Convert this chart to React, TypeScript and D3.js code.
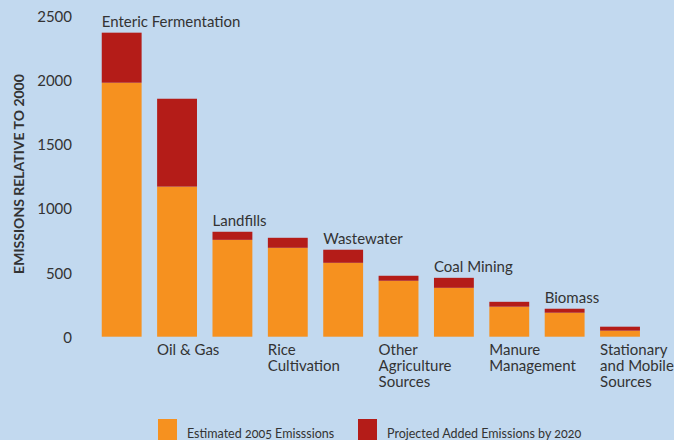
import React from "react";
import * as d3 from "d3";

const categories = [
  "Enteric Fermentation",
  "Oil & Gas",
  "Landfills",
  "Rice Cultivation",
  "Wastewater",
  "Other Agriculture Sources",
  "Coal Mining",
  "Manure Management",
  "Biomass",
  "Stationary and Mobile Sources",
];
const labelLines = [
  ["Enteric Fermentation"],
  ["Oil & Gas"],
  ["Landfills"],
  ["Rice", "Cultivation"],
  ["Wastewater"],
  ["Other", "Agriculture", "Sources"],
  ["Coal Mining"],
  ["Manure", "Management"],
  ["Biomass"],
  ["Stationary", "and Mobile", "Sources"],
];
const estimated2005 = [1980, 1170, 755, 693, 576, 436, 381, 234, 187, 47];
const added2020 = [390, 685, 63, 78, 102, 39, 78, 38, 31, 31];
const yTicks = [0, 500, 1000, 1500, 2000, 2500];
const seriesNames = ["Estimated 2005 Emisssions", "Projected Added Emissions by 2020"];

const W = 674;
const H = 440;
const BG = "#c2d9ef";
const ORANGE = "#f6911f";
const RED = "#b41c18";
const TEXT = "#333333";
const FONT = "Lato, 'Open Sans', sans-serif";

export default function App() {
  const x = d3
    .scaleBand<number>()
    .domain(d3.range(categories.length))
    .range([94, 647.7])
    .paddingInner(0.28)
    .paddingOuter(0.14);
  const y = d3.scaleLinear().domain([0, 2500]).range([336.7, 16]);
  const bw = x.bandwidth();

  return (
    <svg
      width={W}
      height={H}
      style={{ position: "absolute", left: 0, top: 0, display: "block" }}
      fontFamily={FONT}
    >
      <rect x={0} y={0} width={W} height={H} fill={BG} />
      {/* y axis title */}
      <text
        transform={`translate(18,174) rotate(-90)`}
        textAnchor="middle"
        dominantBaseline="central"
        fontWeight={700}
        fontSize={14}
        fill={TEXT}
      >
        EMISSIONS RELATIVE TO 2000
      </text>
      {/* ticks */}
      {yTicks.map((t) => (
        <text
          key={t}
          x={72}
          y={y(t)}
          textAnchor="end"
          dominantBaseline="central"
          fontSize={15}
          fill={TEXT}
        >
          {t}
        </text>
      ))}
      {/* bars */}
      {categories.map((c, i) => {
        const x0 = x(i)!;
        const e = estimated2005[i];
        const a = added2020[i];
        return (
          <g key={c}>
            <rect x={x0} y={y(e)} width={bw} height={y(0) - y(e)} fill={ORANGE} />
            <rect x={x0} y={y(e + a)} width={bw} height={y(e) - y(e + a)} fill={RED} />
          </g>
        );
      })}
      {/* labels */}
      {categories.map((c, i) => {
        const x0 = x(i)!;
        const total = estimated2005[i] + added2020[i];
        const lines = labelLines[i];
        if (i % 2 === 0) {
          return (
            <text key={c} x={x0} y={y(total) - 5.5} fontSize={15} fill={TEXT}>
              {lines[0]}
            </text>
          );
        }
        return (
          <g key={c}>
            {lines.map((l, k) => (
              <text key={k} x={x0} y={355 + k * 16} fontSize={15} fill={TEXT}>
                {l}
              </text>
            ))}
          </g>
        );
      })}
      {/* legend */}
      <rect x={158} y={419} width={19} height={25} fill={ORANGE} />
      <text x={187} y={438} fontSize={12.5} fill={TEXT} style={{ fontVariantNumeric: "oldstyle-nums" }}>
        {seriesNames[0]}
      </text>
      <rect x={358} y={419} width={19} height={25} fill={RED} />
      <text x={387} y={438} fontSize={12.5} fill={TEXT} style={{ fontVariantNumeric: "oldstyle-nums" }}>
        {seriesNames[1]}
      </text>
    </svg>
  );
}
